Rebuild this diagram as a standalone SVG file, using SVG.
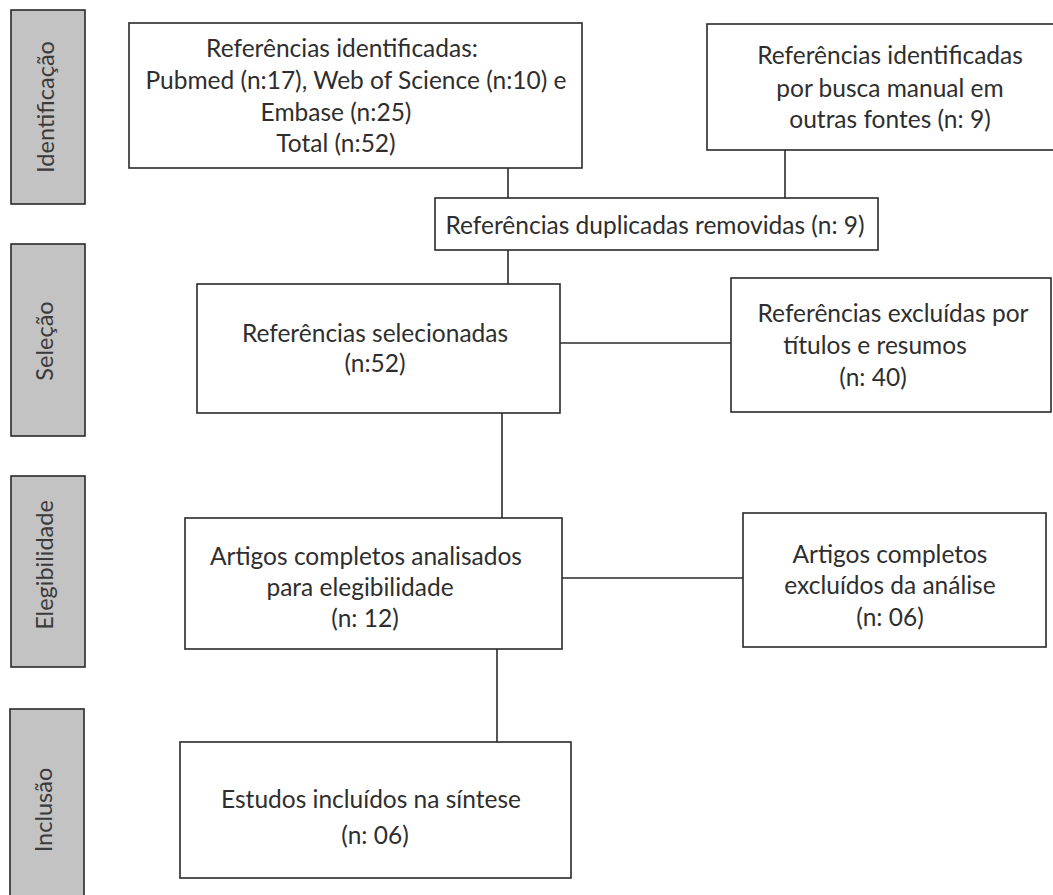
<svg xmlns="http://www.w3.org/2000/svg" width="1053" height="895" viewBox="0 0 1053 895">
<style>
.box{fill:#ffffff;stroke:#2a2a2a;stroke-width:1.6}
.bar{fill:#c3c3c3;stroke:#2a2a2a;stroke-width:1.6}
.t{font-family:Lato,"Open Sans",sans-serif;font-size:24.5px;fill:#2e2e2e;text-anchor:middle}
.s{font-family:Lato,"Open Sans",sans-serif;font-size:23.5px;fill:#3a3a3a;text-anchor:middle}
.c{stroke:#2a2a2a;stroke-width:1.6;fill:none}
</style>
<rect width="1053" height="895" fill="#ffffff"/>
<g id="phase-identificacao">
<rect class="bar" x="11" y="10" width="74" height="194"/>
<text class="s" x="45" y="116" transform="rotate(-90 45 107)">Identificação</text>
</g>
<g id="phase-selecao">
<rect class="bar" x="11" y="244" width="74" height="192"/>
<text class="s" x="45" y="349" transform="rotate(-90 45 341)">Seleção</text>
</g>
<g id="phase-elegibilidade">
<rect class="bar" x="11" y="476" width="74" height="191"/>
<text class="s" x="45" y="573" transform="rotate(-90 45 565)">Elegibilidade</text>
</g>
<g id="phase-inclusao">
<rect class="bar" x="10" y="709" width="74" height="200"/>
<text class="s" x="44" y="818" transform="rotate(-90 44 810)">Inclusão</text>
</g>
<g id="connectors">
<line class="c" x1="508" y1="168" x2="508" y2="198"/>
<line class="c" x1="785" y1="150" x2="785" y2="198"/>
<line class="c" x1="508" y1="250" x2="508" y2="284"/>
<line class="c" x1="560" y1="343" x2="731" y2="343"/>
<line class="c" x1="502" y1="413" x2="502" y2="518"/>
<line class="c" x1="562" y1="578" x2="743" y2="578"/>
<line class="c" x1="497" y1="649" x2="497" y2="742"/>
</g>
<g id="node-identificadas">
<rect class="box" x="129" y="23" width="453" height="145"/>
<text class="t" x="342" y="57">Referências identificadas:</text>
<text class="t" x="356" y="89">Pubmed (n:17), Web of Science (n:10) e</text>
<text class="t" x="336" y="121">Embase (n:25)</text>
<text class="t" x="336" y="152">Total (n:52)</text>
</g>
<g id="node-manual">
<rect class="box" x="707" y="24" width="360" height="126"/>
<text class="t" x="890" y="64">Referências identificadas</text>
<text class="t" x="890" y="97">por busca manual em</text>
<text class="t" x="890" y="128">outras fontes (n: 9)</text>
</g>
<g id="node-duplicadas">
<rect class="box" x="435" y="198" width="443" height="52"/>
<text class="t" x="655" y="234">Referências duplicadas removidas (n: 9)</text>
</g>
<g id="node-selecionadas">
<rect class="box" x="197" y="284" width="363" height="129"/>
<text class="t" x="375" y="342">Referências selecionadas</text>
<text class="t" x="375" y="372">(n:52)</text>
</g>
<g id="node-excluidas-titulos">
<rect class="box" x="731" y="278" width="320" height="134"/>
<text class="t" x="893" y="322">Referências excluídas por</text>
<text class="t" x="875" y="354">títulos e resumos</text>
<text class="t" x="873" y="386">(n: 40)</text>
</g>
<g id="node-artigos">
<rect class="box" x="185" y="518" width="377" height="131"/>
<text class="t" x="366" y="565">Artigos completos analisados</text>
<text class="t" x="360" y="596">para elegibilidade</text>
<text class="t" x="365" y="627">(n: 12)</text>
</g>
<g id="node-excluidos-analise">
<rect class="box" x="743" y="513" width="303" height="134"/>
<text class="t" x="890" y="563">Artigos completos</text>
<text class="t" x="890" y="594">excluídos da análise</text>
<text class="t" x="890" y="626">(n: 06)</text>
</g>
<g id="node-estudos">
<rect class="box" x="180" y="742" width="391" height="136"/>
<text class="t" x="371" y="808">Estudos incluídos na síntese</text>
<text class="t" x="375" y="844">(n: 06)</text>
</g>
</svg>
